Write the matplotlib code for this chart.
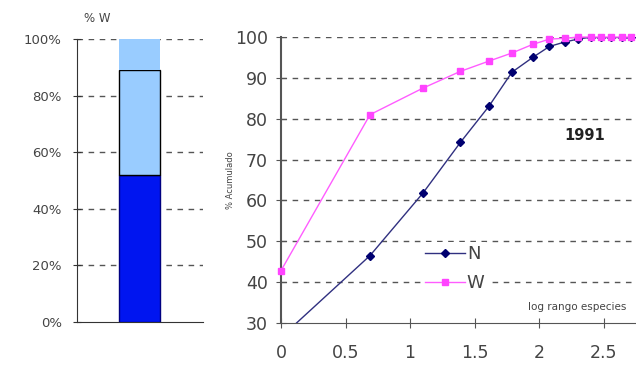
import matplotlib.pyplot as plt

# left chart: % W stacked bar
bar_parts = [52, 37, 11]
bar_colors = ['#0015f0', '#99ccff', '#99ccff']
bar_edges = ['#000080', '#000000', 'none']
left_ticks = [0, 20, 40, 60, 80, 100]

# right chart: cumulative curves vs log rank
log_rank = [0, 0.69, 1.10, 1.39, 1.61, 1.79, 1.95, 2.08, 2.20, 2.30,
            2.40, 2.48, 2.56, 2.64, 2.71]
n_cum = [26.5, 46.5, 61.8, 74.2, 83.0, 91.4, 95.0, 97.7, 98.8, 99.5,
         100, 100, 100, 100, 100]
w_cum = [42.8, 81.0, 87.5, 91.6, 94.1, 96.1, 98.2, 99.5, 99.7, 100,
         100, 100, 100, 100, 100]

fig = plt.figure(figsize=(6.36, 3.67), dpi=100)
txt = '#444444'
grid_kw = dict(color='#555555', linestyle=(0, (4, 4)), linewidth=1.0)

# ---- left
ax = fig.add_axes([0.121, 0.1226, 0.198, 0.771])
bottom = 0
for h, c, e in zip(bar_parts, bar_colors, bar_edges):
    ax.bar(0.496, h, width=0.325, bottom=bottom, color=c,
           edgecolor=e, linewidth=1.0, zorder=3)
    bottom += h
ax.set_xlim(0, 1)
ax.set_ylim(0, 100)
ax.set_yticks(left_ticks)
ax.set_yticklabels(['%d%%' % t for t in left_ticks], fontsize=9.5, color=txt)
for t in left_ticks[1:]:
    ax.axhline(t, zorder=1, **grid_kw)
ax.set_xticks([])
for s in ['top', 'right']:
    ax.spines[s].set_visible(False)
ax.spines['left'].set_color('#333333')
ax.spines['bottom'].set_color('#333333')
ax.tick_params(axis='y', direction='inout', length=6, color='#333333', pad=8)
ax.text(0.16, 1.06, '% W', transform=ax.transAxes, fontsize=8.5,
        color=txt, ha='center')

# ---- right
ax2 = fig.add_axes([0.4418, 0.120, 0.558, 0.779])
for t in range(40, 101, 10):
    ax2.axhline(t, zorder=1, **grid_kw)
ax2.plot(log_rank, n_cum, color='#303080', linewidth=1.0, marker='D',
         markersize=4, markerfacecolor='#000070', markeredgecolor='#000070',
         label='N', zorder=3)
ax2.plot(log_rank, w_cum, color='#ff5cff', linewidth=1.0, marker='s',
         markersize=5, markerfacecolor='#ff44ff', markeredgecolor='#ff44ff',
         label='W', zorder=4, clip_on=False)
ax2.set_xlim(0, 2.75)
ax2.set_ylim(30, 100)
ax2.set_xticks([0, 0.5, 1, 1.5, 2, 2.5])
ax2.set_xticklabels(['0', '0.5', '1', '1.5', '2', '2.5'], fontsize=12.5, color=txt)
ax2.set_yticks(range(30, 101, 10))
ax2.set_yticklabels([str(t) for t in range(30, 101, 10)], fontsize=12.5, color=txt)
for s in ['top', 'right']:
    ax2.spines[s].set_visible(False)
ax2.spines['left'].set_color('#555555')
ax2.spines['bottom'].set_color('#555555')
ax2.spines['left'].set_linewidth(1.5)
ax2.tick_params(axis='both', direction='inout', length=7, color='#555555')
ax2.tick_params(axis='x', pad=12)
ax2.tick_params(axis='y', pad=6)
ax2.set_ylabel('% Acumulado', fontsize=6, color=txt, labelpad=0)
ax2.text(0.856, 0.657, '1991', transform=ax2.transAxes, fontsize=10.5,
         fontweight='bold', color='#222222', ha='center', va='center')
ax2.text(0.972, 0.045, 'log rango especies', transform=ax2.transAxes,
         fontsize=7.5, color=txt, ha='right')
leg = ax2.legend(loc='center', bbox_to_anchor=(0.49, 0.19), fontsize=13,
                 frameon=True, facecolor='white', edgecolor='none',
                 framealpha=1, handlelength=2.2, handletextpad=0.1,
                 borderpad=0.2, labelspacing=0.6)
leg.set_zorder(5)
for t in leg.get_texts():
    t.set_color(txt)

fig.savefig('out.png', dpi=100)
